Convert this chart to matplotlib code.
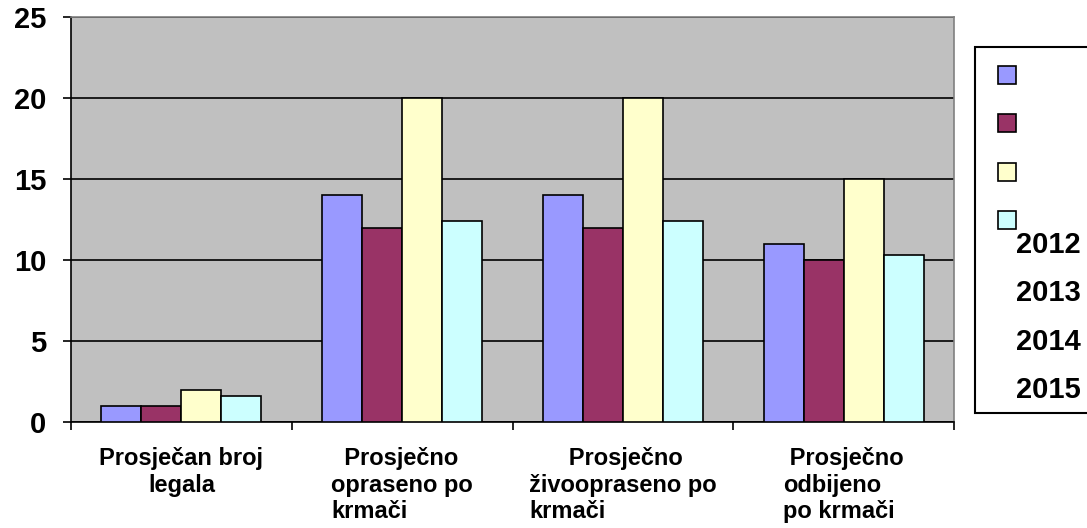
import matplotlib
matplotlib.use("Agg")
import matplotlib.pyplot as plt
from matplotlib.patches import Rectangle
import numpy as np

categories = ["Prosječan broj\nlegala",
              "  Prosječno\nopraseno po\nkrmači",
              "      Prosječno\nživoopraseno po\nkrmači",
              " Prosječno\nodbijeno\npo krmači"]
label_align = ["center", "left", "left", "left"]
years = ["2012", "2013", "2014", "2015"]
v2012 = [1, 14, 14, 11]
v2013 = [1, 12, 12, 10]
v2014 = [2, 20, 20, 15]
v2015 = [1.6, 12.4, 12.4, 10.3]
series = [v2012, v2013, v2014, v2015]
colors = ["#9999FF", "#993366", "#FFFFCC", "#CCFFFF"]
yticks = [0, 5, 10, 15, 20, 25]

plt.rcParams['font.family'] = ['Liberation Sans', 'DejaVu Sans']
plt.rcParams['font.weight'] = 'bold'

W, H = 1087, 528
fig = plt.figure(figsize=(W / 100, H / 100), dpi=100)
ax = fig.add_axes([71 / W, (H - 422) / H, (954 - 71) / W, (422 - 17) / H])
ax.set_facecolor("#C0C0C0")

x = np.arange(len(categories))
bw = 0.181
for i, (vals, c) in enumerate(zip(series, colors)):
    ax.bar(x + (i - 1.5) * bw, vals, width=bw, color=c, edgecolor="black",
           linewidth=1.2, zorder=3, label=years[i])

ax.set_xlim(-0.5, len(categories) - 0.5)
ax.set_ylim(0, 25)
ax.set_yticks(yticks)
ax.set_yticklabels([str(t) for t in yticks], fontsize=21, fontweight='bold')
ax.tick_params(axis='y', length=6, width=1.2, pad=12)
ax.yaxis.grid(True, color="black", linewidth=1.2, zorder=1)
ax.set_axisbelow(True)

ax.set_xticks(x)
ax.set_xticklabels(categories, fontsize=17, fontweight='bold', linespacing=1.2)
for lab, al in zip(ax.get_xticklabels(), label_align):
    lab.set_multialignment(al)
ax.tick_params(axis='x', which='major', length=0, pad=18)
ax.set_xticks(np.arange(-0.5, len(categories), 1.0), minor=True)
ax.tick_params(axis='x', which='minor', length=6, width=1.2)

for s in ['top', 'right']:
    ax.spines[s].set_color("#808080")
    ax.spines[s].set_linewidth(1.2)
for s in ['left', 'bottom']:
    ax.spines[s].set_color("black")
    ax.spines[s].set_linewidth(1.2)

# Legend drawn manually to mirror the reference layout
def fx(px):
    return px / W

def fy(py):
    return 1 - py / H

fig.patches.append(Rectangle((fx(975), fy(413)), fx(1100) - fx(975), fy(47) - fy(413),
                             transform=fig.transFigure, facecolor="white",
                             edgecolor="black", linewidth=1.5, zorder=5))
marker_y = [75, 123, 172, 220]
label_y = [245, 293, 342, 390]
for c, my, ly, yr in zip(colors, marker_y, label_y, years):
    fig.patches.append(Rectangle((fx(998), fy(my + 9)), fx(18), 18 / H,
                                 transform=fig.transFigure, facecolor=c,
                                 edgecolor="black", linewidth=1.2, zorder=6))
    fig.text(fx(1016), fy(ly), yr, fontsize=21, fontweight='bold',
             ha='left', va='center', zorder=7)

fig.savefig("out.png", dpi=100)
